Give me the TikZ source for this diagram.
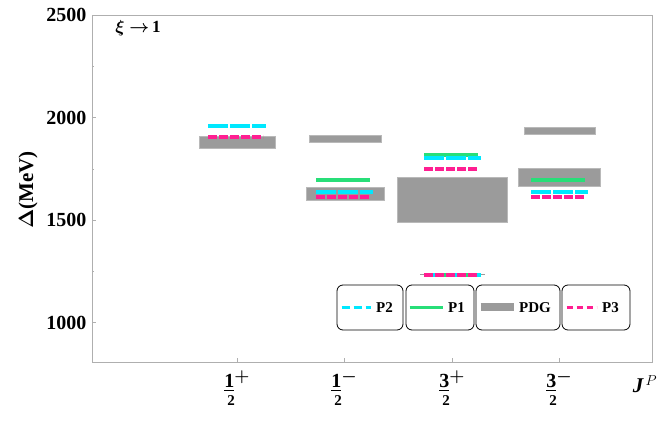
\documentclass[tikz,border=0pt]{standalone}
\usepackage{amsmath}
\usepackage{bm}
\usepackage{fontspec}
\setmainfont{Liberation Serif}
\usetikzlibrary{positioning}
\definecolor{pcyan}{RGB}{0,232,255}
\definecolor{pgreen}{RGB}{40,222,120}
\definecolor{ppink}{RGB}{255,30,145}
\definecolor{pgray}{RGB}{155,155,155}
\begin{document}
\begin{tikzpicture}[x=1pt,y=-1pt,
  ptwo/.style={pcyan,line width=3.5pt,dash pattern=on 20pt off 2pt},
  pone/.style={pgreen,line width=3.5pt},
  pthree/.style={ppink,line width=3.5pt,dash pattern=on 9pt off 2pt},
  pdg/.style={fill=pgray,draw=pgray!70!white,line width=0.4pt},
  tlab/.style={font=\bfseries\fontsize{20}{20}\selectfont,anchor=east},
  legtxt/.style={anchor=west,font=\bfseries\fontsize{15}{15}\selectfont},
  legbox/.style={draw=black,line width=0.8pt,rounded corners=6pt,minimum height=45pt}]
\useasboundingbox (0,0) rectangle (664,446);
\def\ya{15};
\def\yb{362};
% frame and ticks
\draw[pgray!80,line width=0.6pt] (92,\ya) rectangle (652,\yb);
\foreach \v/\y in {2500/15,2000/117.5,1500/220,1000/322.5}{
  \draw[pgray!80] (92,\y) -- (96,\y);
  \node[tlab] (t\v) at (90,\y) {\v};
}
\foreach \y in {66.25,168.75,271.25}{\draw[pgray!80] (92,\y) -- (94,\y);}
\node[rotate=90,font=\bfseries\fontsize{21}{21}\selectfont] (ylab) at (28,190) {$\bm{\Delta}$(MeV)};
\node[font=\bfseries\fontsize{17}{17}\selectfont] (xi) at (138,28) {$\bm{\xi\rightarrow}$\,1};
\node[font=\bfseries\itshape\fontsize{21}{21}\selectfont] (jp) at (645,384) {J$^{\,P}$};
% x ticks and labels
\foreach \x/\n/\s [count=\i] in {237/1/+,344/1/-,452/3/+,559/3/-}{
  \draw[pgray!80] (\x,\yb) -- (\x,\yb-4);
  \node[font=\bfseries\fontsize{20}{20}\selectfont] (n\i) at (\x,381) {\underline{\n}\raisebox{6pt}{\fontsize{16}{16}\selectfont$\bm{\s}$}};
  \node[font=\bfseries\fontsize{15}{15}\selectfont] (d\i) at (\x-6,401) {2};
}
% 1/2+
\draw[pdg] (199,136) rectangle (275,148);
\draw[ptwo] (208,126) -- (266,126);
\draw[pthree] (208,137) -- (263,137);
% 1/2-
\draw[pdg] (309,135) rectangle (381,142);
\draw[pone] (316,180) -- (370,180);
\draw[pdg] (306,187) rectangle (384,200);
\draw[ptwo] (316,192) -- (373,192);
\draw[pthree] (316,197) -- (370,197);
% 3/2+
\draw[pone] (424,155) -- (478,155);
\draw[ptwo] (424,158) -- (481,158);
\draw[pthree] (424,169) -- (478,169);
\draw[pdg] (397,177) rectangle (507,222);
\draw[pgray,line width=1pt] (420,275) -- (485,275);
\draw[pone] (424,275) -- (478,275);
\draw[ptwo] (424,275) -- (481,275);
\draw[pthree] (424,275) -- (478,275);
% 3/2-
\draw[pdg] (524,127) rectangle (595,134);
\draw[pdg] (518,168) rectangle (600,186);
\draw[pone] (531,180) -- (585,180);
\draw[ptwo] (531,192) -- (588,192);
\draw[pthree] (531,197) -- (585,197);
% legend
\node[legbox,minimum width=66pt] (lp2) at (370,307.5) {};
\node[legbox,minimum width=68pt] (lp1) at (440,307.5) {};
\node[legbox,minimum width=84pt] (lpdg) at (518,307.5) {};
\node[legbox,minimum width=68pt] (lp3) at (596,307.5) {};
\draw[ptwo,dash pattern=on 8pt off 4pt] ([xshift=5pt]lp2.west) -- ++(29,0) coordinate (e2);
\node[legtxt] (tp2) at ([xshift=2pt]e2) {P2};
\draw[pone] ([xshift=4pt]lp1.west) -- ++(33,0) coordinate (e1);
\node[legtxt] (tp1) at ([xshift=2pt]e1) {P1};
\draw[pgray,line width=8pt] ([xshift=5pt]lpdg.west) -- ++(33,0) coordinate (eg);
\node[legtxt] (tpdg) at ([xshift=2pt]eg) {PDG};
\draw[pthree,dash pattern=on 6pt off 4pt] ([xshift=5pt]lp3.west) -- ++(30,0) coordinate (e3);
\node[legtxt] (tp3) at ([xshift=2pt]e3) {P3};
\end{tikzpicture}
\end{document}
